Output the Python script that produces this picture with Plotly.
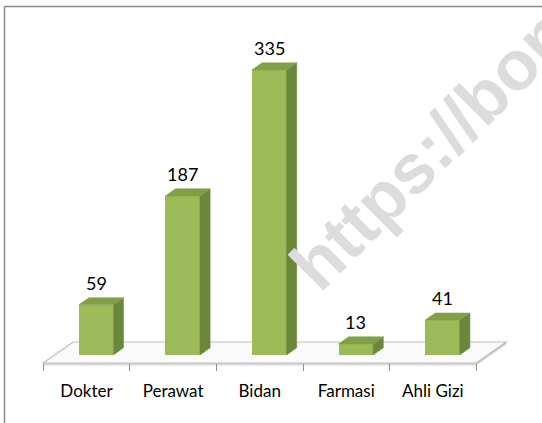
import plotly.graph_objects as go

# ---------------- data ----------------
categories = ["Dokter", "Perawat", "Bidan", "Farmasi", "Ahli Gizi"]
values = [59, 187, 335, 13, 41]

# ---------------- styling / geometry ----------------
W, H = 542, 423
X_RANGE = [-0.9988, 5.2598]
Y_RANGE = [-79.9, 417.2]

DEPTH_DX = 0.346     # floor depth in x-axis units
DEPTH_DY = 24.7      # floor depth in value units
FLOOR_Y = -9.4       # floor front edge (value units)
BAR_DX = 0.11        # shift of bar front face from the category centre
BAR_DEPTH = 0.34     # bar depth as fraction of floor depth
HALF_W = 0.2

C_FRONT = "#9bbb59"
C_SIDE = "#6b883a"
C_TOP = "#809f46"
C_FLOOR_LINE = "#bdbdbd"


def bar_pt(x, v, z):
    """Oblique projection for bar corners (z=0 front face, z=1 back face)."""
    return x + BAR_DX + z * BAR_DEPTH * DEPTH_DX, v + z * BAR_DEPTH * DEPTH_DY


def floor_pt(x, z, drop=0.0):
    return x + z * DEPTH_DX, FLOOR_Y + z * DEPTH_DY - drop


def path(pts):
    return "M " + " L ".join(f"{x},{y}" for x, y in pts) + " Z"


def poly(pts, fill):
    xs = [p[0] for p in pts] + [pts[0][0]]
    ys = [p[1] for p in pts] + [pts[0][1]]
    return go.Scatter(x=xs, y=ys, mode="lines", fill="toself", fillcolor=fill,
                      line=dict(color=fill, width=0.5),
                      hoverinfo="skip", showlegend=False)


fig = go.Figure()

n = len(categories)
x_left, x_right = -0.5, n - 0.5

shapes = [
    # floor slab: front strip, right side, top
    dict(type="path", layer="below", xref="x", yref="y",
         path=path([floor_pt(x_left, 0, 3), floor_pt(x_right, 0, 3),
                    floor_pt(x_right, 0), floor_pt(x_left, 0)]),
         fillcolor="#d9d9d9", line=dict(width=0)),
    dict(type="path", layer="below", xref="x", yref="y",
         path=path([floor_pt(x_right, 0, 3), floor_pt(x_right, 1, 3),
                    floor_pt(x_right, 1), floor_pt(x_right, 0)]),
         fillcolor="#d0d0d0", line=dict(width=0)),
    dict(type="path", layer="below", xref="x", yref="y",
         path=path([floor_pt(x_left, 0), floor_pt(x_right, 0),
                    floor_pt(x_right, 1), floor_pt(x_left, 1)]),
         fillcolor="#fafafa", line=dict(color=C_FLOOR_LINE, width=1.2)),
    # chart border
    dict(type="line", xref="paper", yref="paper", x0=4.5 / W, x1=1.01,
         y0=1 - 6.5 / H, y1=1 - 6.5 / H, line=dict(color="#8a8a8a", width=1.5)),
    dict(type="line", xref="paper", yref="paper", x0=4.5 / W, x1=4.5 / W,
         y0=-0.01, y1=1 - 6.5 / H, line=dict(color="#8a8a8a", width=1.5)),
]

front_x = []
for i, v in enumerate(values):
    xl, xr = i - HALF_W, i + HALF_W
    fig.add_trace(poly([bar_pt(xr, 0, 0), bar_pt(xr, 0, 1),
                        bar_pt(xr, v, 1), bar_pt(xr, v, 0)], C_SIDE))
    fig.add_trace(poly([bar_pt(xl, v, 0), bar_pt(xr, v, 0),
                        bar_pt(xr, v, 1), bar_pt(xl, v, 1)], C_TOP))
    front_x.append(bar_pt(i, 0, 0)[0])

# front faces as real bars
fig.add_trace(go.Bar(x=front_x, y=values, base=0, width=2 * HALF_W,
                     marker=dict(color=C_FRONT, line=dict(width=0)),
                     hoverinfo="skip", showlegend=False))

# value labels
for cx, v in zip(front_x, values):
    fig.add_annotation(x=cx, y=v, text=str(v), showarrow=False, yshift=22,
                       yanchor="middle", font=dict(family="Lato", size=18, color="#000000"))

# watermark
fig.add_annotation(x=431 / W, y=1 - 149 / H, xref="paper", yref="paper",
                   text="https://bon", textangle=-45, showarrow=False,
                   font=dict(family="Liberation Sans", size=70, color="#dcdcdc",
                             weight="bold"),
                   xanchor="center", yanchor="middle")

pos = (FLOOR_Y - Y_RANGE[0]) / (Y_RANGE[1] - Y_RANGE[0])

fig.update_layout(
    width=W, height=H,
    margin=dict(l=0, r=0, t=0, b=0),
    paper_bgcolor="white", plot_bgcolor="white",
    bargap=0,
    shapes=shapes,
    xaxis=dict(range=X_RANGE, tickmode="array", tickvals=list(range(n)),
               ticktext=categories, ticks="", showgrid=False, zeroline=False,
               showline=False, anchor="free", position=pos,
               ticklabelstandoff=16,
               tickfont=dict(family="Lato", size=17, color="#000000"),
               minor=dict(tickmode="array", tickvals=[i - 0.5 for i in range(n + 1)],
                          ticks="outside", ticklen=7, tickcolor="#8c8c8c",
                          tickwidth=1, showgrid=False)),
    yaxis=dict(range=Y_RANGE, visible=False, showgrid=False, zeroline=False),
)

fig.write_html("out.html", config={"displayModeBar": False},
               post_script="document.body.style.margin='0';document.body.style.overflow='hidden';")
